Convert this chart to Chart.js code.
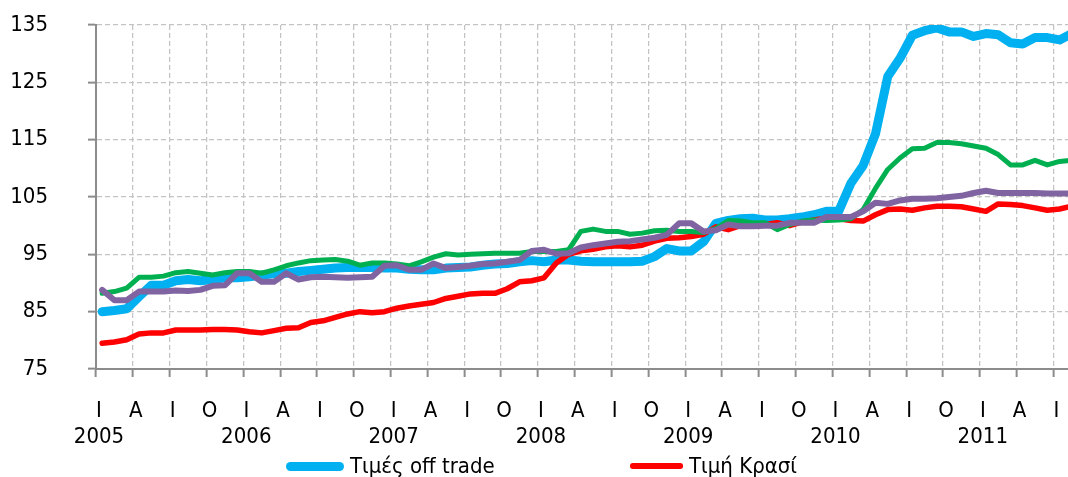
<!DOCTYPE html>
<html>
<head>
<meta charset="utf-8">
<script src="https://cdn.jsdelivr.net/npm/chart.js@4/dist/chart.umd.min.js"></script>
<style>
  html, body { margin: 0; padding: 0; background: #fff; overflow: hidden; width: 1068px; height: 477px; }
  #wrap { position: relative; width: 1068px; height: 477px; overflow: hidden; }
  #c { position: absolute; left: 0; top: 0; }
  .lgtext { position: absolute; font-family: "DejaVu Sans Condensed", "DejaVu Sans", sans-serif; font-size: 22px; line-height: 22px; color: #000; white-space: nowrap; }
  .lgline { position: absolute; }
</style>
</head>
<body>
<div id="wrap">
  <canvas id="c" width="1078" height="477"></canvas>
</div>
<script>
// ---- data (monthly, Jan 2005 .. Aug 2011) ----
const quarterLetters = ['Ι', 'Α', 'Ι', 'Ο'];
const years = ['2005', '2006', '2007', '2008', '2009', '2010', '2011'];
const seriesNames = ['Τιμές off trade', 'Τιμή Κρασί', 'Σειρά 3', 'Σειρά 4'];
const yTicks = [75, 85, 95, 105, 115, 125, 135];

const offTrade = [
  85.0, 85.2, 85.5, 87.6, 89.6, 89.6, 90.4, 90.6, 90.4, 90.6, 90.9, 90.9,
  91.1, 91.4, 91.6, 91.7, 92.0, 92.2, 92.4, 92.6, 92.7, 92.7, 92.7, 92.6,
  92.6, 92.4, 92.3, 92.3, 92.6, 92.7, 92.8, 93.1, 93.3, 93.4, 93.7, 93.9,
  93.7, 94.0, 94.0, 93.8, 93.7, 93.7, 93.7, 93.7, 93.8, 94.6, 96.0, 95.6,
  95.6, 97.2, 100.4, 100.9, 101.2, 101.3, 101.0, 101.0, 101.2, 101.5, 101.9, 102.5,
  102.5, 107.4, 110.5, 116.0, 126.0, 129.2, 133.2, 134.0, 134.5, 133.8, 133.8, 133.0,
  133.5, 133.3, 131.9, 131.7, 132.8, 132.8, 132.4, 133.5
];
const wine = [
  79.5, 79.7, 80.1, 81.1, 81.3, 81.3, 81.8, 81.8, 81.8, 81.9, 81.9, 81.8,
  81.5, 81.3, 81.7, 82.1, 82.2, 83.1, 83.4, 84.0, 84.6, 85.0, 84.8, 85.0,
  85.6, 86.0, 86.3, 86.6, 87.3, 87.7, 88.1, 88.2, 88.2, 89.0, 90.2, 90.4,
  90.9, 93.5, 95.0, 95.6, 95.9, 96.3, 96.5, 96.3, 96.6, 97.3, 97.8, 97.9,
  98.1, 98.5, 99.8, 99.3, 100.0, 100.2, 100.2, 100.5, 100.0, 100.6, 101.0, 101.3,
  101.2, 100.9, 100.8, 101.9, 102.8, 102.9, 102.7, 103.1, 103.4, 103.4, 103.3, 102.9,
  102.5, 103.8, 103.7, 103.5, 103.1, 102.7, 102.9, 103.4
];
const series3 = [
  88.2, 88.5, 89.1, 91.0, 91.0, 91.2, 91.8, 92.0, 91.7, 91.4, 91.8, 92.0,
  92.0, 91.7, 92.3, 93.0, 93.5, 93.9, 94.0, 94.1, 93.8, 93.1, 93.5, 93.5,
  93.3, 93.0, 93.7, 94.5, 95.1, 94.9, 95.0, 95.1, 95.2, 95.2, 95.2, 95.5,
  95.5, 95.5, 95.8, 99.0, 99.4, 99.0, 99.0, 98.5, 98.7, 99.1, 99.2, 99.0,
  99.0, 98.8, 99.5, 100.9, 100.8, 100.5, 100.5, 99.3, 100.2, 100.8, 101.0, 100.9,
  101.0, 101.2, 102.8, 106.5, 109.8, 111.8, 113.4, 113.5, 114.5, 114.5, 114.3, 113.9,
  113.5, 112.4, 110.6, 110.6, 111.4, 110.6, 111.2, 111.4
];
const series4 = [
  88.8, 87.0, 87.0, 88.5, 88.5, 88.5, 88.7, 88.6, 88.8, 89.5, 89.6, 91.7,
  91.7, 90.2, 90.2, 91.7, 90.6, 91.0, 91.1, 91.0, 90.9, 91.0, 91.1, 93.0,
  93.1, 92.3, 92.3, 93.4, 92.6, 92.8, 93.0, 93.3, 93.4, 93.7, 94.0, 95.6,
  95.8, 95.1, 95.2, 96.2, 96.6, 96.9, 97.2, 97.3, 97.6, 97.9, 98.4, 100.4,
  100.4, 99.0, 99.2, 100.2, 99.9, 99.9, 100.0, 100.0, 100.5, 100.5, 100.5, 101.5,
  101.5, 101.5, 102.5, 104.0, 103.8, 104.4, 104.7, 104.7, 104.8, 105.0, 105.2, 105.7,
  106.1, 105.7, 105.7, 105.7, 105.7, 105.6, 105.6, 105.6
];

const seriesValues = [offTrade, wine, series3, series4];
const seriesColors = ['#00B0F0', '#FF0000', '#00B050', '#8064A2'];
const seriesWidths = [9, 5.5, 5, 6];
const seriesOrder = [4, 3, 2, 1];

const FONT = '"DejaVu Sans Condensed", "DejaVu Sans", sans-serif';

const datasets = seriesValues.map((vals, s) => ({
  label: seriesNames[s],
  data: vals.map((v, i) => ({ x: i + 0.5, y: v })),
  borderColor: seriesColors[s],
  backgroundColor: seriesColors[s],
  borderWidth: seriesWidths[s],
  pointRadius: 0,
  pointHoverRadius: 0,
  tension: 0,
  borderCapStyle: 'round',
  borderJoinStyle: 'round',
  fill: false,
  order: seriesOrder[s]
}));

const chart = new Chart(document.getElementById('c'), {
  type: 'line',
  data: { datasets },
  options: {
    responsive: false,
    animation: false,
    devicePixelRatio: 1,
    layout: { padding: { left: 0, right: 0, top: 25, bottom: 0 } },
    plugins: { legend: { display: false }, tooltip: { enabled: false } },
    scales: {
      x: {
        type: 'linear',
        min: 0,
        max: 80,
        afterFit: (scale) => { scale.height = 108; scale.paddingLeft = 0; scale.paddingRight = 0; },
        grid: {
          color: '#C4C4C4',
          lineWidth: 1.25,
          drawTicks: true,
          tickLength: 8,
          tickColor: '#8C8C8C',
          tickWidth: 2
        },
        border: { display: true, color: '#8C8C8C', width: 2, dash: [5, 3] },
        ticks: {
          stepSize: 3,
          maxTicksLimit: 100,
          includeBounds: false,
          autoSkip: false,
          maxRotation: 0,
          minRotation: 0,
          padding: 21,
          labelOffset: 3,
          color: '#000',
          font: { family: FONT, size: 22, lineHeight: 1.2 },
          callback: (value) => {
            const m = Math.round(value);
            const letter = quarterLetters[(m / 3) % 4];
            if (m % 12 === 0) return [letter, years[m / 12]];
            return letter;
          }
        }
      },
      y: {
        min: 75,
        max: 135,
        afterFit: (scale) => { scale.width = 96; scale.paddingTop = 0; scale.paddingBottom = 0; },
        afterBuildTicks: (scale) => { scale.ticks = yTicks.map(v => ({ value: v })); },
        grid: {
          color: '#C4C4C4',
          lineWidth: 1.25,
          drawTicks: true,
          tickLength: 8,
          tickColor: '#8C8C8C',
          tickWidth: 2
        },
        border: { display: true, color: '#8C8C8C', width: 2, dash: [5, 3] },
        ticks: {
          padding: 40,
          color: '#000',
          font: { family: FONT, size: 22 }
        }
      }
    }
  }
});

// ---- legend (first row: the two visible entries) ----
const wrap = document.getElementById('wrap');
const legendItems = [
  { s: 0, lineLeft: 286, lineWidth: 58, textLeft: 350 },
  { s: 1, lineLeft: 630, lineWidth: 53, textLeft: 689 }
];
legendItems.forEach(it => {
  const ds = chart.data.datasets[it.s];
  const h = ds.borderWidth;
  const line = document.createElement('div');
  line.className = 'lgline';
  line.style.left = it.lineLeft + 'px';
  line.style.top = (466 - h / 2) + 'px';
  line.style.width = it.lineWidth + 'px';
  line.style.height = h + 'px';
  line.style.borderRadius = (h / 2) + 'px';
  line.style.background = ds.borderColor;
  wrap.appendChild(line);
  const t = document.createElement('div');
  t.className = 'lgtext';
  t.style.left = it.textLeft + 'px';
  t.style.top = '455px';
  t.textContent = ds.label;
  wrap.appendChild(t);
});
</script>
</body>
</html>
